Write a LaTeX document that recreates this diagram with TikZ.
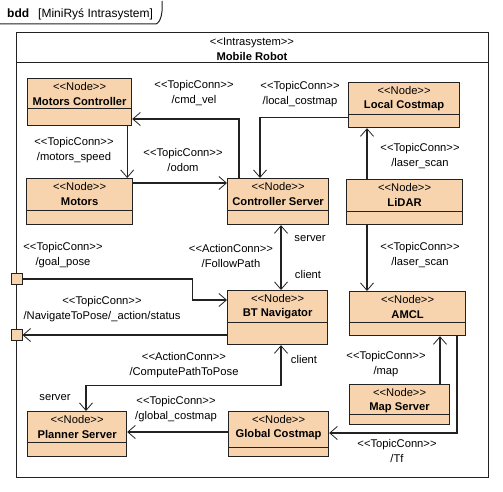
\documentclass[tikz,border=0pt]{standalone}
\usepackage{fontspec}
\setmainfont{Liberation Sans}
\usetikzlibrary{arrows.meta, positioning, calc}
\definecolor{NODEfill}{HTML}{F8D4AE}
\definecolor{NODEline}{HTML}{222222}

% stereotype text without guillemet ligatures
\newcommand{\stname}[1]{<\kern0pt<#1>\kern0pt>}
% name, x, y (top left), width, height, lower part height, label
\newcommand{\rosnode}[7]{%
   \node[nodebox, minimum width=#4pt, minimum height=#5pt] (#1) at (#2,#3) {};
   \draw[sepline] ([yshift=#6pt]#1.south west) -- ([yshift=#6pt]#1.south east);
   \node[stereo] (#1-st) at ([yshift=-8pt]#1.north) {\stname{Node}};
   \node[nodename] (#1-nm) at ([yshift=-23.5pt]#1.north) {#7};
}

\tikzset{
   openv/.tip={Straight Barb[length=7.5pt, width=13pt, line width=0.8pt]},
   nodebox/.style={draw=NODEline, line width=1.2pt, fill=NODEfill, anchor=north west, inner sep=0pt},
   sepline/.style={draw=NODEline, line width=1pt},
   stereo/.style={font=\fontsize{11.2}{13}\selectfont, inner sep=0pt},
   nodename/.style={font=\fontsize{11.2}{13}\selectfont\bfseries, inner sep=0pt},
   conn/.style={draw=NODEline, line width=1.15pt, -openv},
   actconn/.style={draw=NODEline, line width=1.15pt, openv-openv},
   connlabel/.style={font=\fontsize{11.2}{15}\selectfont, align=center, inner sep=0pt},
   port/.style={draw=NODEline, line width=1pt, fill=NODEfill, minimum size=11pt, inner sep=0pt},
}

\begin{document}
\begin{tikzpicture}[x=1pt, y=-1pt]
            \useasboundingbox (0,0) rectangle (503,492);
            % Diagram frame tab
            \draw[NODEline, line width=1pt] (0,24) -- (156,24)
               .. controls (161,22) and (163,12) .. (162,1);
            \node[anchor=west, inner sep=0pt, font=\fontsize{12}{14}\selectfont] (tab) at (7,14)
               {\textbf{bdd}\hspace{9pt}[MiniRyś Intrasystem]};
            % Intrasystem block
            \node[draw=NODEline, line width=1.2pt, anchor=north west, minimum width=472pt,
               minimum height=445pt, inner sep=0pt] (robot) at (16,32) {};
            \draw[sepline] ([yshift=-31pt]robot.north west) -- ([yshift=-31pt]robot.north east);
            \node[stereo] (robot-st) at (252,43) {\stname{Intrasystem}};
            \node[nodename] (robot-nm) at (252,56) {Mobile Robot};
            % Nodes
            \rosnode{mc}{27}{78}{104}{47}{18}{Motors Controller}
            \rosnode{lc}{348}{82}{111}{45}{14}{Local Costmap}
            \rosnode{mo}{26}{178}{106}{46}{15}{Motors}
            \rosnode{cs}{227}{178}{101}{46}{15}{Controller Server}
            \rosnode{li}{346}{179}{116}{45}{14}{LiDAR}
            \rosnode{bt}{227}{290}{100}{54}{23}{BT Navigator}
            \rosnode{am}{349}{291}{116}{44}{14}{AMCL}
            \rosnode{ms}{349}{384}{100}{40}{11}{Map Server}
            \rosnode{ps}{27}{411}{99}{45}{15}{Planner Server}
            \rosnode{gc}{228}{411}{100}{45}{10}{Global Costmap}
            % Ports
            \node[port] (p1) at (16.5,279) {};
            \node[port] (p2) at (16.5,335) {};
            % /cmd_vel
            \draw[conn] ([xshift=12pt]cs.north west) |- ([yshift=-41pt]mc.north east);
            \node[connlabel] (l-cmd) at (194,93.5) {\stname{TopicConn}\\/cmd\_vel};
            % /motors_speed
            \draw[conn] ([xshift=-5pt]mc.south east) -- ([xshift=-5pt]mc.south east |- mo.north);
            \node[connlabel] (l-speed) at (74,150.5) {\stname{TopicConn}\\/motors\_speed};
            % /odom
            \draw[conn] ([yshift=-5pt]mo.north east) -- ([yshift=-5pt]mo.north east -| cs.west);
            \node[connlabel] (l-odom) at (183,159.5) {\stname{TopicConn}\\/odom};
            % /local_costmap
            \draw[conn] ([yshift=11pt]lc.south west) -| ([xshift=33pt]cs.north west);
            \node[connlabel] (l-local) at (300,94.5) {\stname{TopicConn}\\/local\_costmap};
            % /laser_scan (LiDAR -> Local Costmap, LiDAR -> AMCL)
            \draw[conn] ([xshift=21pt]li.north west) -- ([xshift=21pt]li.north west |- lc.south);
            \node[connlabel] (l-scan1) at (420,156) {\stname{TopicConn}\\/laser\_scan};
            \draw[conn] ([xshift=21pt]li.south west) -- ([xshift=21pt]li.south west |- am.north);
            \node[connlabel] (l-scan2) at (420,255.5) {\stname{TopicConn}\\/laser\_scan};
            % /FollowPath
            \draw[actconn] ([xshift=54pt]bt.north west) -- ([xshift=54pt]bt.north west |- cs.south);
            \node[connlabel] (l-follow) at (231,255.5) {\stname{ActionConn}\\/FollowPath};
            \node[connlabel] (l-srv1) at (310,239) {server};
            \node[connlabel] (l-cli1) at (308,274) {client};
            % /goal_pose
            \draw[conn] (p1.east) -- ++(170,0) |- ([yshift=-10pt]bt.north west);
            \node[connlabel] (l-goal) at (63,255.5) {\stname{TopicConn}\\/goal\_pose};
            % /NavigateToPose/_action/status
            \draw[conn] (bt.west |- p2) -- (p2.east);
            \node[connlabel] (l-status) at (102,309.5) {\stname{TopicConn}\\/NavigateToPose/\_action/status};
            % /ComputePathToPose
            \draw[actconn] ([xshift=54pt]bt.south west) -- ++(0,40) -| ([xshift=59pt]ps.north west);
            \node[connlabel] (l-compute) at (184,365.5) {\stname{ActionConn}\\/ComputePathToPose};
            \node[connlabel] (l-cli2) at (304,359) {client};
            \node[connlabel] (l-srv2) at (55,398) {server};
            % /global_costmap
            \draw[conn] ([yshift=-21pt]gc.north west) -- ([yshift=-21pt]gc.north west -| ps.east);
            \node[connlabel] (l-global) at (176,409.5) {\stname{TopicConn}\\/global\_costmap};
            % /map
            \draw[conn] ([xshift=91pt]ms.north west) -- ([xshift=91pt]ms.north west |- am.south);
            \node[connlabel] (l-map) at (386,364.5) {\stname{TopicConn}\\/map};
            % /Tf
            \draw[conn] ([xshift=108pt]am.south west) |- ([yshift=-22pt]gc.north east);
            \node[connlabel] (l-tf) at (397,451) {\stname{TopicConn}\\/Tf};
         \end{tikzpicture}
\end{document}
